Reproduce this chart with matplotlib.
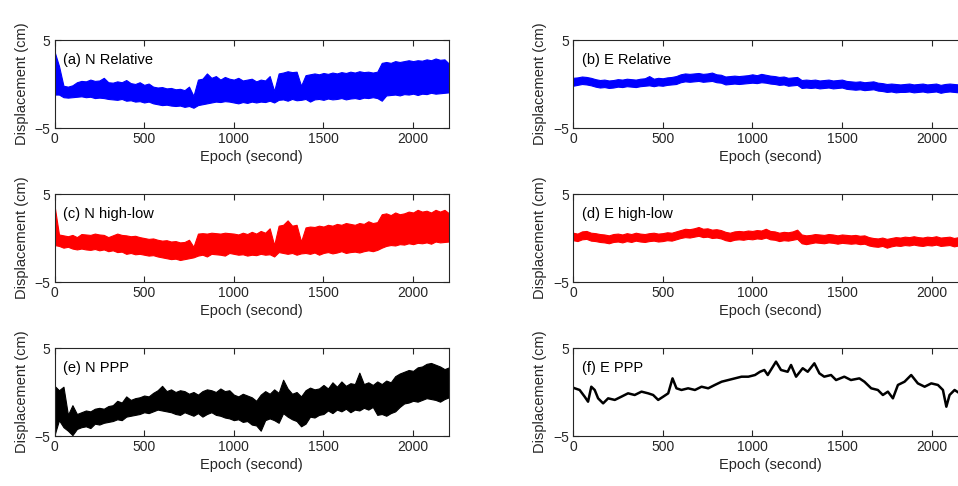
import numpy as np
import matplotlib
matplotlib.use("Agg")
import matplotlib.pyplot as plt

plt.rcParams['font.family'] = ['Liberation Sans', 'DejaVu Sans']

# Epochs for envelope readings (every 25 s)
epochs = list(range(0, 2201, 25))

# (a) N Relative : upper / lower envelope (cm)
n_rel_hi = [3.7, 2.05, -0.2, -0.3, -0.15, 0.2, 0.35, 0.3, 0.5, 0.35,
            0.4, 0.7, 0.2, 0.15, 0.3, 0.2, 0.45, 0.1, 0.0, 0.2,
            -0.1, 0.05, -0.3, -0.4, -0.35, -0.5, -0.45, -0.6, -0.55, -0.7,
            -0.3, -1.35, 0.5, 0.6, 1.2, 0.7, 0.9, 0.5, 0.8, 0.6,
            0.5, 0.7, 0.4, 0.5, 0.6, 0.3, 0.5, 0.4, 0.9, -0.8,
            1.2, 1.3, 1.45, 1.35, 1.4, -0.2, 1.0, 1.1, 1.2, 1.1,
            1.25, 1.15, 1.3, 1.2, 1.35, 1.25, 1.4, 1.3, 1.45, 1.35,
            1.4, 1.3, 1.4, 2.4, 2.5, 2.4, 2.6, 2.5, 2.6, 2.7,
            2.6, 2.7, 2.65, 2.8, 2.7, 2.9, 2.75, 2.8, 2.3]
n_rel_lo = [-1.2, -1.2, -1.5, -1.55, -1.5, -1.45, -1.4, -1.5, -1.45, -1.6,
            -1.55, -1.6, -1.7, -1.75, -1.8, -1.7, -1.9, -1.85, -2.0, -1.95,
            -2.1, -2.0, -2.2, -2.3, -2.4, -2.35, -2.45, -2.5, -2.45, -2.6,
            -2.5, -2.7, -2.4, -2.3, -2.2, -2.1, -2.0, -2.05, -1.95, -2.0,
            -2.1, -2.2, -2.05, -2.15, -2.0, -2.1, -2.0, -2.05, -1.9, -2.1,
            -1.8, -1.75, -1.9, -1.7, -1.85, -1.8, -1.7, -2.0, -1.75, -1.7,
            -1.8, -1.65, -1.75, -1.7, -1.6, -1.75, -1.65, -1.6, -1.7, -1.55,
            -1.6, -1.5, -1.6, -1.9, -1.3, -1.25, -1.2, -1.3, -1.15, -1.2,
            -1.1, -1.25, -1.1, -1.15, -1.0, -1.1, -1.05, -1.0, -0.95]

# (b) E Relative
e_rel_hi = [0.7, 0.75, 0.85, 0.8, 0.7, 0.55, 0.45, 0.5, 0.4, 0.45,
            0.55, 0.5, 0.6, 0.55, 0.5, 0.6, 0.65, 0.9, 0.6, 0.7,
            0.65, 0.75, 0.8, 0.9, 1.1, 1.2, 1.15, 1.2, 1.25, 1.15,
            1.2, 1.3, 1.1, 1.05, 0.85, 0.9, 0.95, 0.9, 0.95, 1.0,
            1.1, 1.0, 1.15, 1.05, 0.95, 0.9, 0.8, 0.85, 0.7, 0.75,
            0.8, 0.45, 0.5, 0.45, 0.5, 0.4, 0.45, 0.5, 0.4, 0.45,
            0.5, 0.35, 0.3, 0.25, 0.3, 0.2, 0.25, 0.3, 0.15, 0.1,
            0.0, 0.05, 0.0, -0.05, 0.0, 0.05, -0.05, 0.0, 0.05, -0.05,
            0.0, 0.05, -0.1, 0.0, 0.05, 0.0, -0.05, 0.0, -0.05]
e_rel_lo = [-0.2, -0.1, 0.0, -0.05, -0.15, -0.3, -0.4, -0.35, -0.45, -0.4,
            -0.3, -0.35, -0.25, -0.3, -0.35, -0.25, -0.2, -0.15, -0.25, -0.15,
            -0.2, -0.1, -0.05, 0.0, 0.2, 0.3, 0.25, 0.3, 0.35, 0.25,
            0.3, 0.35, 0.2, 0.15, -0.05, 0.0, 0.05, 0.0, 0.05, 0.1,
            0.15, 0.1, 0.2, 0.15, 0.05, 0.0, -0.1, -0.05, -0.2, -0.15,
            -0.1, -0.45, -0.4, -0.45, -0.4, -0.5, -0.45, -0.4, -0.5, -0.45,
            -0.4, -0.55, -0.6, -0.65, -0.6, -0.7, -0.65, -0.6, -0.75, -0.8,
            -0.9, -0.85, -0.95, -0.9, -0.9, -0.85, -0.95, -0.9, -0.85, -0.95,
            -0.9, -0.85, -1.0, -0.9, -0.85, -0.9, -0.95, -0.9, -0.95]

# (c) N high-low
n_hl_hi = [3.7, 0.4, 0.3, 0.2, 0.35, 0.1, 0.45, 0.4, 0.35, 0.5,
           0.4, 0.35, 0.1, 0.3, 0.5, 0.35, 0.3, 0.2, 0.25, 0.1,
           0.0, -0.1, -0.05, -0.2, -0.3, -0.25, -0.4, -0.35, -0.5, -0.45,
           -0.2, -1.0, 0.5, 0.55, 0.5, 0.6, 0.55, 0.5, 0.6, 0.55,
           0.5, 0.4, 0.6, 0.45, 0.7, 0.5, 0.8, 0.6, 1.1, -0.8,
           1.4, 1.5, 2.0, 1.4, 1.5, -0.4, 1.2, 1.3, 1.25, 1.4,
           1.3, 1.5, 1.4, 1.6, 1.5, 1.7, 1.6, 1.5, 1.7, 1.6,
           1.9, 1.7, 1.8, 2.7, 2.8, 2.6, 2.9, 2.7, 2.8, 3.0,
           2.9, 3.2, 3.0, 3.1, 2.9, 3.2, 3.0, 3.2, 2.8]
n_hl_lo = [-0.8, -0.9, -1.1, -1.0, -1.2, -1.3, -1.2, -1.3, -1.35, -1.25,
           -1.4, -1.3, -1.5, -1.4, -1.6, -1.55, -1.8, -1.7, -1.85, -1.8,
           -1.9, -2.0, -1.95, -2.1, -2.2, -2.3, -2.4, -2.35, -2.5, -2.4,
           -2.3, -2.2, -2.0, -1.9, -2.1, -1.8, -1.85, -1.9, -2.0, -1.7,
           -1.8, -1.9, -1.85, -2.0, -1.9, -1.95, -1.8, -1.9, -1.85, -2.1,
           -1.6, -1.7, -1.8, -1.7, -1.9, -1.75, -1.7, -1.8, -1.65, -1.9,
           -1.7, -1.6, -1.75, -1.65, -1.5, -1.7, -1.6, -1.55, -1.65, -1.5,
           -1.4, -1.5, -1.35, -1.1, -0.9, -0.8, -0.85, -0.7, -0.75, -0.6,
           -0.7, -0.55, -0.6, -0.5, -0.65, -0.4, -0.5, -0.45, -0.4]

# (d) E high-low
e_hl_hi = [0.6, 0.5, 0.75, 0.8, 0.6, 0.55, 0.45, 0.4, 0.3, 0.45,
           0.5, 0.4, 0.55, 0.45, 0.6, 0.5, 0.45, 0.55, 0.6, 0.5,
           0.55, 0.65, 0.6, 0.75, 0.9, 1.05, 1.0, 1.1, 1.25, 1.05,
           1.1, 0.95, 1.0, 0.9, 0.7, 0.6, 0.75, 0.8, 0.75, 0.85,
           0.8, 0.9, 0.85, 1.05, 0.8, 0.75, 0.6, 0.7, 0.65, 0.75,
           0.95, 0.4, 0.3, 0.35, 0.45, 0.4, 0.35, 0.45, 0.4, 0.3,
           0.4, 0.35, 0.3, 0.35, 0.25, 0.3, 0.1, 0.0, -0.05, 0.05,
           -0.1, 0.0, 0.1, 0.05, 0.15, 0.1, 0.2, 0.1, 0.05, 0.15,
           0.1, 0.2, 0.05, 0.1, 0.15, 0.0, 0.1, 0.05, 0.1]
e_hl_lo = [-0.25, -0.35, -0.15, -0.1, -0.3, -0.35, -0.45, -0.5, -0.6, -0.45,
           -0.4, -0.5, -0.35, -0.45, -0.3, -0.4, -0.45, -0.35, -0.3, -0.4,
           -0.35, -0.25, -0.3, -0.15, 0.0, 0.1, 0.05, 0.15, 0.25, 0.1,
           0.15, 0.0, 0.05, -0.05, -0.25, -0.35, -0.2, -0.15, -0.2, -0.1,
           -0.15, -0.05, -0.1, 0.05, -0.15, -0.2, -0.35, -0.25, -0.3, -0.2,
           -0.1, -0.6, -0.7, -0.6, -0.5, -0.55, -0.6, -0.5, -0.55, -0.65,
           -0.55, -0.6, -0.65, -0.6, -0.7, -0.65, -0.85, -0.95, -1.0, -0.9,
           -1.1, -0.95, -0.85, -0.9, -0.8, -0.85, -0.75, -0.85, -0.9, -0.8,
           -0.85, -0.75, -0.9, -0.85, -0.8, -0.95, -0.85, -0.9, -0.85]

# (e) N PPP
n_ppp_hi = [0.7, 0.2, 0.6, -2.6, -1.5, -2.5, -2.3, -2.1, -2.2, -1.9,
            -1.8, -1.9, -1.6, -1.5, -1.0, -1.2, -0.5, -0.9, -0.7, -0.6,
            -0.4, -0.5, -0.1, 0.2, 0.7, 0.1, 0.3, 0.0, 0.2, 0.1,
            -0.2, 0.0, -0.3, 0.1, 0.3, 0.2, 0.0, 0.4, 0.1, 0.2,
            -0.3, -0.5, -0.2, -0.4, -0.6, -1.0, -0.3, 0.1, -0.2, 0.3,
            -0.1, 1.4, 0.4, -0.2, 0.0, -0.5, 0.2, 0.5, 0.3, 0.4,
            0.8, 0.4, 1.1, 0.6, 1.2, 0.7, 1.0, 0.9, 2.2, 0.9,
            1.1, 0.8, 1.2, 0.9, 1.3, 1.1, 1.8, 2.1, 2.3, 2.5,
            2.4, 2.8, 2.9, 3.2, 3.3, 3.1, 2.9, 2.6, 2.8]
n_ppp_lo = [-4.9, -3.2, -4.0, -4.4, -4.9, -4.2, -4.0, -3.9, -4.1, -3.6,
            -3.7, -3.5, -3.4, -3.3, -3.1, -3.2, -2.8, -2.7, -2.6, -2.5,
            -2.3, -2.4, -2.2, -2.0, -2.1, -2.2, -2.3, -2.5, -2.6, -2.3,
            -2.5, -2.7, -2.4, -2.8, -2.5, -2.3, -2.6, -2.7, -2.9, -3.0,
            -3.2, -3.1, -3.4, -3.3, -3.7, -3.8, -4.4, -3.2, -3.0, -3.2,
            -3.5, -2.4, -2.8, -3.1, -3.3, -3.9, -3.6, -2.8, -2.9, -2.6,
            -2.5, -2.1, -2.4, -2.0, -2.2, -1.9, -2.3, -2.0, -2.1, -1.8,
            -2.0, -1.7, -2.6, -2.5, -2.7, -2.4, -2.2, -1.7, -1.3, -1.2,
            -1.0, -1.1, -0.9, -0.7, -0.8, -0.9, -1.1, -0.8, -0.6]

# (f) E PPP : single trace
e_ppp_t = [0, 10, 37, 65, 84, 102, 121, 140, 168, 196, 233, 270, 307, 344, 382,
           419, 447, 475, 503, 531, 555, 577, 605, 642, 680, 717, 754, 791, 829,
           866, 903, 940, 978, 1015, 1043, 1067, 1086, 1132, 1160, 1197, 1216,
           1244, 1281, 1309, 1346, 1374, 1401, 1439, 1467, 1513, 1550, 1597,
           1625, 1663, 1700, 1728, 1756, 1784, 1812, 1849, 1886, 1923, 1961,
           1998, 2035, 2063, 2082, 2100, 2128, 2156, 2200]
e_ppp_v = [0.5, 0.42, 0.23, -0.53, -1.1, 0.6, 0.23, -0.72, -1.29, -0.72, -0.9,
           -0.53, -0.15, -0.34, 0.04, -0.15, -0.34, -0.9, -0.53, -0.15, 1.55,
           0.42, 0.23, 0.42, 0.23, 0.6, 0.42, 0.8, 1.17, 1.36, 1.55, 1.74,
           1.74, 1.93, 2.3, 2.5, 1.93, 3.45, 2.5, 2.3, 3.07, 1.74, 2.7, 2.3,
           3.26, 2.12, 1.74, 1.93, 1.36, 1.74, 1.36, 1.55, 1.17, 0.42, 0.23,
           -0.34, 0.04, -0.72, 0.8, 1.17, 1.93, 0.98, 0.6, 0.98, 0.8, 0.23,
           -1.67, -0.34, 0.23, -0.15, 0.0]

panel_labels = ['(a) N Relative', '(b) E Relative', '(c) N high-low',
                '(d) E high-low', '(e) N PPP', '(f) E PPP']
xlabel_text = 'Epoch (second)'
ylabel_text = 'Displacement (cm)'

W, H = 958, 486
fig = plt.figure(figsize=(W / 100, H / 100), dpi=100)

col_left = [54.5, 573]
ax_w = 394.5
row_top = [40, 194, 348]
ax_h = 88

dark = '#262626'
axes = []
for r in range(3):
    for c in range(2):
        ax = fig.add_axes([col_left[c] / W, 1 - (row_top[r] + ax_h) / H,
                           ax_w / W, ax_h / H])
        axes.append(ax)

bands = [(n_rel_hi, n_rel_lo, 'blue'), (e_rel_hi, e_rel_lo, 'blue'),
         (n_hl_hi, n_hl_lo, 'red'), (e_hl_hi, e_hl_lo, 'red'),
         (n_ppp_hi, n_ppp_lo, 'black')]

for ax, (hi, lo, col) in zip(axes[:5], bands):
    ax.fill_between(epochs, lo, hi, color=col, linewidth=0.8,
                    edgecolor=col)

axes[5].plot(e_ppp_t, e_ppp_v, color='black', lw=1.8)

for i, ax in enumerate(axes):
    ax.set_xlim(0, 2200)
    ax.set_ylim(-5, 5)
    ax.set_xticks([0, 500, 1000, 1500, 2000])
    ax.set_yticks([-5, 5])
    ax.tick_params(direction='in', top=True, right=True, length=4,
                   width=0.8, labelsize=10, colors=dark, pad=3)
    for s in ax.spines.values():
        s.set_color(dark)
        s.set_linewidth(0.8)
    ax.set_xlabel(xlabel_text, fontsize=10.5, color=dark, labelpad=3)
    ax.set_ylabel(ylabel_text, fontsize=10.5, color=dark, labelpad=4)
    ax.text(0.022, 0.77, panel_labels[i], transform=ax.transAxes,
            fontsize=10.5, color='black', va='center', ha='left')

fig.savefig('out.png', dpi=100)
